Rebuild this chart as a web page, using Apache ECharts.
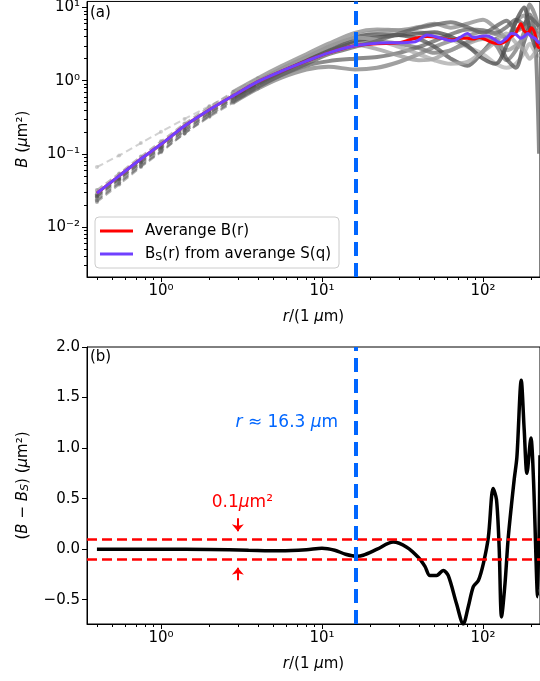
<!DOCTYPE html>
<html>
<head>
<meta charset="utf-8">
<script src="https://cdn.jsdelivr.net/npm/echarts@6/dist/echarts.min.js"></script>
<style>
html, body { margin: 0; padding: 0; background: #fff; }
#main { width: 540px; height: 681px; }
</style>
</head>
<body>
<div id="main"></div>
<script>
// r grid of the individual samples (um)
var rGray = [0.4, 0.55, 0.75, 1, 1.4, 2, 2.8, 4, 5.6, 8, 11, 16, 22, 30, 40, 50, 63, 80, 100, 120, 140, 160, 180, 195, 210, 223];
// B(r) of the individual samples
var grayCurves = [
    [0.066, 0.095, 0.14, 0.2, 0.3, 0.45, 0.66, 0.98, 1.42, 2.05, 2.8, 4.0, 4.7, 4.9, 4.6, 4.3, 3.7, 2.9, 2.3, 1.7, 1.5, 1.7, 2.4, 3.2, 2.5, 2.1],
    [0.032, 0.054, 0.092, 0.148, 0.26, 0.44, 0.7, 1.08, 1.58, 2.3, 3.2, 4.5, 5.0, 4.9, 5.4, 6.0, 5.3, 6.0, 6.8, 5.2, 3.9, 6.3, 7.8, 5.8, 5.0, 4.6],
    [0.027, 0.046, 0.078, 0.125, 0.22, 0.37, 0.58, 0.9, 1.3, 1.85, 2.5, 3.3, 3.4, 3.2, 2.8, 2.4, 2.6, 3.4, 3.9, 3.1, 1.9, 2.6, 4.6, 11, 8, 5],
    [0.025, 0.043, 0.072, 0.115, 0.2, 0.34, 0.54, 0.85, 1.2, 1.6, 1.85, 2.0, 2.1, 2.4, 2.9, 3.5, 4.3, 5.0, 4.9, 4.5, 5.4, 6.8, 5.9, 8.0, 4.5, 0.1],
    [0.022, 0.038, 0.066, 0.105, 0.19, 0.32, 0.5, 0.78, 1.1, 1.42, 1.55, 1.42, 1.5, 1.8, 2.3, 2.9, 3.5, 4.1, 4.7, 4.3, 3.9, 4.7, 5.4, 6.3, 4.9, 4.0],
    [0.028, 0.048, 0.082, 0.13, 0.23, 0.39, 0.63, 0.98, 1.45, 2.1, 2.9, 3.9, 4.3, 4.2, 3.7, 2.9, 2.0, 1.6, 2.5, 3.7, 2.0, 1.5, 3.4, 5.3, 4.0, 3.0],
    [0.024, 0.041, 0.07, 0.11, 0.2, 0.35, 0.56, 0.88, 1.28, 1.85, 2.5, 3.1, 2.7, 2.2, 1.9, 2.0, 2.6, 3.2, 3.7, 3.3, 2.6, 3.0, 3.8, 4.5, 4.2, 3.9],
    [0.026, 0.045, 0.076, 0.12, 0.21, 0.36, 0.57, 0.9, 1.32, 1.9, 2.55, 3.5, 3.9, 4.2, 4.4, 4.6, 4.0, 3.0, 2.0, 1.7, 3.0, 6.4, 10, 5.0, 3.0, 2.5],
    [0.03, 0.05, 0.086, 0.138, 0.25, 0.42, 0.66, 1.02, 1.5, 2.15, 2.95, 3.9, 3.6, 2.9, 2.3, 1.9, 1.7, 1.8, 2.5, 3.4, 4.4, 3.3, 2.6, 2.0, 2.4, 3.0],
    [0.023, 0.04, 0.068, 0.108, 0.19, 0.33, 0.52, 0.82, 1.2, 1.7, 2.3, 2.9, 3.5, 4.4, 5.3, 5.8, 6.3, 5.4, 4.5, 5.5, 6.6, 5.0, 5.9, 7.3, 6.4, 5.5]
];
var grayColors = ['#b4b4b4', '#8a8a8a', '#777777', '#666666', '#808080', '#555555', '#9a9a9a', '#4a4a4a', '#a8a8a8', '#606060'];

// average B(r) and B_S(r)
var rAvg = [0.4, 0.55, 0.75, 1, 1.4, 2, 2.8, 4, 5.6, 8, 11, 16, 22, 30, 38, 45, 55, 65, 72, 80, 87, 95, 105, 115, 127, 140, 150, 160, 172, 180, 190, 200, 210, 219, 226];
var bAvg = [0.029, 0.05, 0.085, 0.135, 0.24, 0.4, 0.62, 0.97, 1.35, 1.85, 2.4, 3.0, 3.2, 3.3, 3.8, 4.0, 3.8, 3.6, 3.8, 3.8, 3.7, 3.9, 3.6, 3.3, 3.2, 3.5, 4.0, 4.5, 6.0, 4.8, 4.5, 5.3, 4.4, 2.9, 2.8];
var bS = [0.029, 0.05, 0.085, 0.135, 0.24, 0.4, 0.62, 0.97, 1.35, 1.85, 2.4, 3.0, 3.25, 3.3, 3.4, 4.2, 3.8, 3.5, 3.9, 4.4, 3.9, 4.0, 4.1, 3.8, 3.3, 3.8, 4.4, 4.3, 3.8, 4.0, 4.4, 4.0, 3.8, 3.4, 3.3];

// B - B_S
var rDiff = [0.4, 1, 2, 3.5, 5.5, 8, 10, 12, 14, 16.5, 18, 22, 27.7, 33.6, 39.6, 43.6, 46.8, 51.5, 56.6, 60.8, 68.5, 75.4, 81, 87.1, 93.6, 100.6, 108, 115.6, 121.3, 126, 130.4, 137, 143.6, 156, 162.4, 172.8, 180.3, 187.5, 198.5, 206, 218.4, 226];
var dDiff = [0, 0, -0.003, -0.01, -0.015, -0.005, 0.01, -0.01, -0.05, -0.07, -0.06, 0.0, 0.07, 0.02, -0.08, -0.17, -0.26, -0.26, -0.21, -0.26, -0.54, -0.74, -0.57, -0.37, -0.31, -0.14, 0.12, 0.6, 0.49, 0.02, -0.67, -0.34, 0.12, 0.68, 0.91, 1.67, 1.18, 0.75, 1.1, 0.68, -0.47, 0.93];

var rCut = 16.3;
var tol = 0.1;
var arrowR = 3;
var arrowDown = [0.307, 0.178];
var arrowUp = [-0.307, -0.183];
var labelTol = [3.2, 0.465];
var labelCut = [12.6, 1.25];

var xMajor = [1, 10, 100];
var yMajorTop = [0.01, 0.1, 1, 10];
var yMajorBot = [-0.5, 0, 0.5, 1, 1.5, 2];

var xMin = 0.347, xMax = 226;
var yMinTop = 0.00207, yMaxTop = 12.1;
var yMinBot = -0.74, yMaxBot = 2.0;

var FONT = 'DejaVu Sans';
var FS = 15;
var nameAvg = 'Averange B(r)';
var nameS = 'B_S(r) from averange S(q)';

function minorTicks(lo, hi) {
    var out = [];
    for (var e = -4; e <= 3; e++) {
        for (var m = 2; m <= 9; m++) {
            var v = m * Math.pow(10, e);
            if (v > lo && v < hi) out.push(v);
        }
    }
    return out;
}
var supMap = {'-': '\u207b', '0': '\u2070', '1': '\u00b9', '2': '\u00b2', '3': '\u00b3', '4': '\u2074', '5': '\u2075', '6': '\u2076', '7': '\u2077', '8': '\u2078', '9': '\u2079'};
function pow10Label(v) {
    var e = String(Math.round(Math.log10(v)));
    return '10' + e.split('').map(function (c) { return supMap[c]; }).join('');
}
function linLabel(v) {
    return (v < 0 ? '\u2212' : '') + Math.abs(v).toFixed(1);
}
function pairs(xs, ys) {
    return xs.map(function (x, i) { return [x, ys[i]]; });
}

var richItal = {
    i: {fontStyle: 'italic', fontSize: FS, fontFamily: FONT},
    sub: {fontStyle: 'italic', fontSize: 11, fontFamily: FONT, verticalAlign: 'bottom'}
};
var tickLabel = {color: '#000', fontSize: FS, fontFamily: FONT};

function logXAxis(grid) {
    return [{
        gridIndex: grid, type: 'log', min: xMin, max: xMax, position: 'bottom',
        axisLine: {show: true, onZero: false, lineStyle: {color: '#000', width: 1}},
        axisTick: {show: true, customValues: xMajor, length: 5, lineStyle: {color: '#000'}},
        axisLabel: Object.assign({customValues: xMajor, formatter: pow10Label, margin: 7}, tickLabel),
        splitLine: {show: false},
        name: '{i|r}/(1 {i|\u03bc}m)', nameLocation: 'middle', nameGap: 33,
        nameTextStyle: {color: '#000', fontSize: FS, fontFamily: FONT, rich: richItal}
    }, {
        gridIndex: grid, type: 'log', min: xMin, max: xMax, position: 'bottom',
        axisLine: {show: false, onZero: false},
        axisTick: {show: true, customValues: minorTicks(xMin, xMax), length: 3, lineStyle: {color: '#000'}},
        axisLabel: {show: false}, splitLine: {show: false}
    }];
}

var series = [];
grayCurves.forEach(function (vals, i) {
    var near = [], far = [];
    rGray.forEach(function (r, j) {
        if (r <= 4) near.push([r, vals[j]]);
        if (r >= 2.8) far.push([r, vals[j]]);
    });
    series.push({
        type: 'line', xAxisIndex: 0, yAxisIndex: 0, data: near,
        symbol: 'circle', symbolSize: 4, showSymbol: true,
        itemStyle: {color: grayColors[i], opacity: 0.6},
        lineStyle: {color: grayColors[i], width: 2, type: [7, 4], opacity: 0.6},
        silent: true, z: 1
    });
    series.push({
        type: 'line', xAxisIndex: 0, yAxisIndex: 0, data: far,
        symbol: 'none', smooth: 0.3,
        lineStyle: {color: grayColors[i], width: 4, opacity: 0.75},
        silent: true, z: 1
    });
});
series.push({
    name: nameAvg, type: 'line', xAxisIndex: 0, yAxisIndex: 0,
    data: pairs(rAvg, bAvg), symbol: 'none', smooth: 0.3,
    itemStyle: {color: '#ff0000'}, lineStyle: {color: '#ff0000', width: 3}, z: 3
});
series.push({
    name: nameS, type: 'line', xAxisIndex: 0, yAxisIndex: 0,
    data: pairs(rAvg, bS), symbol: 'none', smooth: 0.3,
    itemStyle: {color: '#7040ff'}, lineStyle: {color: '#7040ff', width: 3}, z: 4,
    markLine: {
        silent: true, symbol: ['none', 'none'], label: {show: false},
        lineStyle: {color: '#0066ff', width: 4, type: [14, 7]},
        data: [{xAxis: rCut}]
    }
});

var redDash = {color: '#ff0000', width: 2.5, type: [10, 5]};
var redSolid = {color: '#ff0000', width: 2, type: 'solid'};
series.push({
    type: 'line', xAxisIndex: 2, yAxisIndex: 2,
    data: pairs(rDiff, dDiff), symbol: 'none', smooth: 0.3,
    lineStyle: {color: '#000', width: 3.5}, z: 3,
    markLine: {
        silent: true, symbol: ['none', 'none'], label: {show: false},
        data: [
            {yAxis: tol, lineStyle: redDash},
            {yAxis: -tol, lineStyle: redDash},
            {xAxis: rCut, lineStyle: {color: '#0066ff', width: 4, type: [14, 7]}},
            [{coord: [arrowR, arrowDown[0]], symbol: 'none', lineStyle: redSolid},
             {coord: [arrowR, arrowDown[1]], symbol: 'arrow', symbolSize: [9, 7]}],
            [{coord: [arrowR, arrowUp[0]], symbol: 'none', lineStyle: redSolid},
             {coord: [arrowR, arrowUp[1]], symbol: 'arrow', symbolSize: [9, 7]}]
        ]
    },
    markPoint: {
        silent: true, symbol: 'circle', symbolSize: 0,
        data: [
            {coord: labelCut, label: {
                show: true, position: 'left', distance: 0,
                formatter: '{i|r} \u2248 ' + rCut + ' {i|\u03bc}m',
                color: '#0066ff', fontSize: 17, fontFamily: FONT,
                rich: {i: {fontStyle: 'italic', fontSize: 17, fontFamily: FONT, color: '#0066ff'}}
            }},
            {coord: labelTol, label: {
                show: true, position: 'inside',
                formatter: tol + '{i|\u03bc}m\u00b2',
                color: '#ff0000', fontSize: 17, fontFamily: FONT,
                rich: {i: {fontStyle: 'italic', fontSize: 17, fontFamily: FONT, color: '#ff0000'}}
            }}
        ]
    }
});

var chart = echarts.init(document.getElementById('main'), null, {renderer: 'canvas'});
chart.setOption({
    animation: false,
    backgroundColor: '#fff',
    grid: [
        {left: 87, top: 1, width: 453, height: 276, show: true, borderColor: '#000', borderWidth: 1, backgroundColor: 'transparent'},
        {left: 87, top: 347, width: 453, height: 277, show: true, borderColor: '#000', borderWidth: 1, backgroundColor: 'transparent'}
    ],
    xAxis: logXAxis(0).concat(logXAxis(1)),
    yAxis: [{
        gridIndex: 0, type: 'log', min: yMinTop, max: yMaxTop, position: 'left',
        axisLine: {show: true, onZero: false, lineStyle: {color: '#000'}},
        axisTick: {show: true, customValues: yMajorTop, length: 5, lineStyle: {color: '#000'}},
        axisLabel: Object.assign({customValues: yMajorTop, formatter: pow10Label, margin: 7}, tickLabel),
        splitLine: {show: false},
        name: '{i|B} ({i|\u03bc}m\u00b2)', nameLocation: 'middle', nameGap: 56,
        nameTextStyle: {color: '#000', fontSize: FS, fontFamily: FONT, rich: richItal}
    }, {
        gridIndex: 0, type: 'log', min: yMinTop, max: yMaxTop, position: 'left',
        axisLine: {show: false, onZero: false},
        axisTick: {show: true, customValues: minorTicks(yMinTop, yMaxTop), length: 3, lineStyle: {color: '#000'}},
        axisLabel: {show: false}, splitLine: {show: false}
    }, {
        gridIndex: 1, type: 'value', min: yMinBot, max: yMaxBot, position: 'left',
        axisLine: {show: true, onZero: false, lineStyle: {color: '#000'}},
        axisTick: {show: true, customValues: yMajorBot, length: 5, lineStyle: {color: '#000'}},
        axisLabel: Object.assign({customValues: yMajorBot, formatter: linLabel, margin: 7}, tickLabel),
        splitLine: {show: false},
        name: '({i|B} \u2212 {i|B}{sub|S}) ({i|\u03bc}m\u00b2)', nameLocation: 'middle', nameGap: 56,
        nameTextStyle: {color: '#000', fontSize: FS, fontFamily: FONT, rich: richItal}
    }],
    legend: {
        data: [nameAvg, nameS], orient: 'vertical', left: 95, top: 217,
        icon: 'rect', itemWidth: 33, itemHeight: 3, itemGap: 5,
        padding: [5, 8, 5, 5],
        backgroundColor: 'rgba(255,255,255,0.8)', borderColor: '#cccccc', borderWidth: 1, borderRadius: 4,
        textStyle: {
            color: '#000', fontSize: FS, fontFamily: FONT, lineHeight: 18, padding: [0, 0, 0, 7],
            rich: {sub: {fontSize: 11, fontFamily: FONT, verticalAlign: 'bottom', color: '#000'}}
        },
        formatter: function (n) { return n === nameS ? 'B{sub|S}(r) from averange S(q)' : n; }
    },
    graphic: [
        {type: 'text', left: 90, top: 6, style: {text: '(a)', fontSize: 15, fontFamily: FONT, fill: '#000'}},
        {type: 'text', left: 90, top: 350, style: {text: '(b)', fontSize: 15, fontFamily: FONT, fill: '#000'}}
    ],
    series: series
});
</script>
</body>
</html>
